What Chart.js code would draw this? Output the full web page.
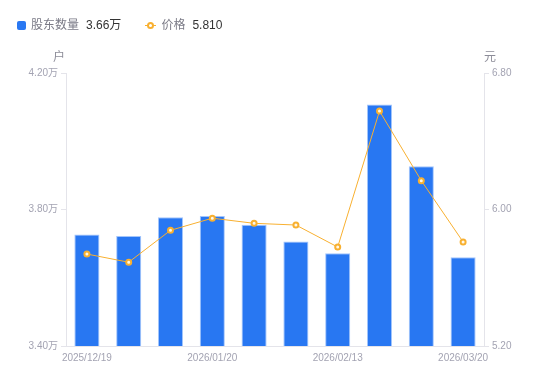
<!DOCTYPE html>
<html>
<head>
<meta charset="utf-8">
<script src="https://cdn.jsdelivr.net/npm/chart.js@4/dist/chart.umd.min.js"></script>
<style>
  html, body { margin: 0; padding: 0; background: #fff; }
  #wrap { position: relative; width: 550px; height: 381px; font-family: "Liberation Sans", "Noto Sans CJK SC", sans-serif; }
  #legend { position: absolute; left: 17px; top: 17px; font-size: 12px; line-height: 16px; display: flex; align-items: center; }
  .item { display: flex; align-items: center; margin-right: 24px; }
  .sw { width: 9px; height: 9px; background: #2a78f2; border-radius: 2px; margin-right: 5px; }
  .ln { position: relative; width: 11px; height: 9px; margin-right: 5px; }
  .ln::before { content: ""; position: absolute; left: 0; right: 0; top: 4px; height: 1px; background: #f8b030; }
  .ln::after { content: ""; position: absolute; left: 2px; top: 1px; width: 3px; height: 3px; border: 2px solid #f8b030; border-radius: 50%; background: #fff; }
  .nm { color: #7a7a86; margin-right: 7px; }
  .vl { color: #333; }
  canvas { position: absolute; left: 0; top: 0; }
</style>
</head>
<body>
<div id="wrap">
  <canvas id="c" width="550" height="381"></canvas>
  <div id="legend">
    <div class="item"><span class="sw"></span><span class="nm">股东数量</span><span class="vl">3.66万</span></div>
    <div class="item"><span class="ln"></span><span class="nm">价格</span><span class="vl">5.810</span></div>
  </div>
</div>
<script>
const categories = ["2025/12/19","2025/12/31","2026/01/09","2026/01/20","2026/01/30","2026/02/06","2026/02/13","2026/02/27","2026/03/10","2026/03/20"];
const holders = [3.727, 3.722, 3.777, 3.781, 3.755, 3.706, 3.672, 4.108, 3.927, 3.66];
const prices = [5.739, 5.691, 5.878, 5.949, 5.919, 5.909, 5.780, 6.577, 6.169, 5.810];
const shownLabelIdx = [0, 3, 6, 9];
const leftTicks = [3.40, 3.80, 4.20];
const rightTicks = [5.20, 6.00, 6.80];
const leftUnit = "户";
const rightUnit = "元";

const FONT = '"Liberation Sans", "Noto Sans CJK SC", sans-serif';
const tickColor = '#a3a3b2';
const axisColor = '#e4e4ea';

const axisTitles = {
  id: 'axisTitles',
  afterDraw(chart) {
    const ctx = chart.ctx;
    const a = chart.chartArea;
    ctx.save();
    ctx.font = '12px ' + FONT;
    ctx.fillStyle = '#8c8c98';
    ctx.textAlign = 'center';
    ctx.textBaseline = 'middle';
    ctx.fillText(leftUnit, a.left - 7, a.top - 15);
    ctx.fillText(rightUnit, a.right + 6, a.top - 15);
    ctx.restore();
  }
};

new Chart(document.getElementById('c'), {
  data: {
    labels: categories,
    datasets: [
      {
        type: 'line',
        label: '价格',
        data: prices,
        yAxisID: 'y1',
        borderColor: '#f8b030',
        borderWidth: 1,
        pointRadius: 2.5,
        pointBorderWidth: 2,
        pointBackgroundColor: '#fff8e8',
        pointBorderColor: '#f8b030',
        tension: 0,
        order: 0
      },
      {
        type: 'bar',
        label: '股东数量',
        data: holders,
        yAxisID: 'y',
        backgroundColor: '#2877f2',
        borderColor: 'rgba(140,182,250,0.8)',
        borderWidth: 1,
        barPercentage: 0.6,
        categoryPercentage: 1,
        order: 1
      }
    ]
  },
  options: {
    responsive: false,
    animation: false,
    events: [],
    layout: { padding: { top: 73, left: 0, right: 0, bottom: 0 } },
    plugins: { legend: { display: false }, tooltip: { enabled: false } },
    scales: {
      x: {
        type: 'category',
        grid: { display: false, drawTicks: false },
        border: { display: true, color: axisColor },
        ticks: {
          autoSkip: false, maxRotation: 0, minRotation: 0, padding: 6,
          color: tickColor, font: { family: FONT, size: 10 },
          callback: function(v, i) { return shownLabelIdx.includes(i) ? categories[i] : ''; }
        },
        afterFit: s => { s.height = 35; }
      },
      y: {
        type: 'linear', position: 'left',
        min: leftTicks[0], max: leftTicks[leftTicks.length - 1],
        afterBuildTicks: s => { s.ticks = leftTicks.map(v => ({ value: v })); },
        grid: { display: true, drawOnChartArea: false, tickLength: 5, color: axisColor },
        border: { display: true, color: axisColor },
        ticks: { padding: 3, color: tickColor, font: { family: FONT, size: 10 },
          callback: v => Number(v).toFixed(2) + '万' },
        afterFit: s => { s.width = 66; }
      },
      y1: {
        type: 'linear', position: 'right',
        min: rightTicks[0], max: rightTicks[rightTicks.length - 1],
        afterBuildTicks: s => { s.ticks = rightTicks.map(v => ({ value: v })); },
        grid: { display: true, drawOnChartArea: false, tickLength: 5, color: axisColor },
        border: { display: true, color: axisColor },
        ticks: { padding: 3, color: tickColor, font: { family: FONT, size: 10 },
          callback: v => Number(v).toFixed(2) },
        afterFit: s => { s.width = 66; }
      }
    }
  },
  plugins: [axisTitles]
});
</script>
</body>
</html>
